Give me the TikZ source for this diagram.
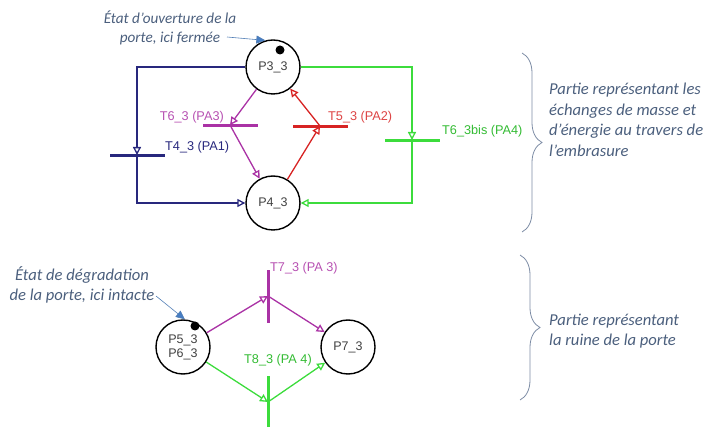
\documentclass[tikz,border=0pt]{standalone}
\usepackage{fontspec}
\setmainfont{Liberation Sans}
\newfontfamily\notefont{Carlito}
\usetikzlibrary{arrows.meta,decorations.pathreplacing}

\definecolor{petriNavy}{RGB}{40,40,125}
\definecolor{petriMag}{RGB}{170,50,165}
\definecolor{petriRed}{RGB}{215,35,35}
\definecolor{petriGreen}{RGB}{60,220,60}
\definecolor{noteText}{RGB}{75,95,125}
\definecolor{noteArrow}{RGB}{70,125,195}
\definecolor{braceGray}{RGB}{125,140,165}

\tikzset{
    petriplace/.style={circle,draw=black,line width=1.4pt,minimum size=54pt,inner sep=0pt,
        text=black!75,font=\fontsize{12.5}{14}\selectfont,align=center},
    token/.style={circle,fill=black,minimum size=9pt,inner sep=0pt},
    hbar/.style={draw=#1,fill=#1,minimum width=54pt,minimum height=2pt,inner sep=0pt},
    vbar/.style={draw=#1,fill=#1,minimum width=2pt,minimum height=52pt,inner sep=0pt},
    flow/.style={draw=#1,line width=1.3pt,-{Triangle[open,length=8pt,width=8pt]}},
    tlabel/.style={text=#1,font=\fontsize{12.7}{14}\selectfont,inner sep=0pt},
    note/.style={text=noteText,font=\notefont\itshape\fontsize{16.6}{20.5}\selectfont,inner sep=0pt},
    pointer/.style={draw=noteArrow!80!gray,line width=0.6pt,-{Triangle[length=9pt,width=8pt,fill=noteArrow]}},
    sidebrace/.style={draw=braceGray,line width=0.8pt,decorate,decoration={brace,amplitude=20pt}}
}

\begin{document}
\begin{tikzpicture}[x=1pt,y=-1pt]
    \useasboundingbox (0,0) rectangle (723,427);

    % --- UPPER NET: openings ---
    \node[petriplace] (p33) at (273,67) {P3\_3};
    \node[petriplace] (p43) at (273,203) {P4\_3};
    \node[token] (tok33) at (280,50) {};

    \node[hbar=petriNavy] (t43) at (137,155) {};
    \node[hbar=petriMag] (t63) at (230,125) {};
    \node[hbar=petriRed] (t53) at (320,126) {};
    \node[hbar=petriGreen] (t63b) at (412,140) {};

    \node[tlabel=petriNavy,anchor=west] (l43) at (165,147) {T4\_3 (PA1)};
    \node[tlabel=petriMag!85,anchor=east] (l63) at (224,117) {T6\_3 (PA3)};
    \node[tlabel=petriRed!85,anchor=west] (l53) at (328,117) {T5\_3 (PA2)};
    \node[tlabel=petriGreen!85!black,anchor=west] (l63b) at (442,131) {T6\_3bis (PA4)};

    \draw[flow=petriNavy] (p33.west) -| (t43.center);
    \draw[flow=petriNavy] (t43.center) |- (p43.west);
    \draw[flow=petriMag] (p33) -- (t63.center);
    \draw[flow=petriMag] (t63.center) -- (p43);
    \draw[flow=petriRed] (p43) -- (t53.center);
    \draw[flow=petriRed] (t53.center) -- (p33);
    \draw[flow=petriGreen] (p33.east) -| (t63b.center);
    \draw[flow=petriGreen] (t63b.center) |- (p43.east);

    \node[note,align=center,font=\notefont\itshape\fontsize{15.2}{19.5}\selectfont] (noteOpen) at (170,28)
        {État d’ouverture de la\\porte, ici fermée};
    \coordinate (openFrom) at (227,37);
    \draw[pointer] (openFrom) -- (p33.106);

    % --- LOWER NET: door ruin ---
    \node[petriplace] (p53) at (183,347) {P5\_3\\P6\_3};
    \node[petriplace] (p73) at (348,347) {P7\_3};
    \node[token] (tok53) at (195,326) {};

    \node[vbar=petriMag] (t73) at (268,296) {};
    \node[vbar=petriGreen] (t83) at (268,402) {};
    \node[tlabel=petriMag!85,anchor=west] (l73) at (270,268) {T7\_3 (PA 3)};
    \node[tlabel=petriGreen!85!black] (l83) at (278,360) {T8\_3 (PA 4)};

    \draw[flow=petriMag] (p53) -- (t73.center);
    \draw[flow=petriMag] (t73.center) -- (p73);
    \draw[flow=petriGreen] (p53) -- (t83.center);
    \draw[flow=petriGreen] (t83.center) -- (p73);

    \node[note,align=center] (noteRuin) at (82,285) {État de dégradation\\de la porte, ici intacte};
    \coordinate (ruinFrom) at (156,296);
    \draw[pointer] (ruinFrom) -- (p53.86);

    % --- BRACES AND COMMENTS ---
    \coordinate (braceA1) at (522,53);
    \coordinate (braceA2) at (522,232);
    \coordinate (braceB1) at (520,255);
    \coordinate (braceB2) at (520,400);
    \draw[sidebrace] (braceA1) -- (braceA2);
    \draw[sidebrace] (braceB1) -- (braceB2);

    \node[note,align=left,anchor=west] (noteUp) at (549,120)
        {Partie représentant les\\échanges de masse et\\d’énergie au travers de\\l’embrasure};
    \node[note,align=left,anchor=west] (noteDown) at (549,331)
        {Partie représentant\\la ruine de la porte};
\end{tikzpicture}
\end{document}
